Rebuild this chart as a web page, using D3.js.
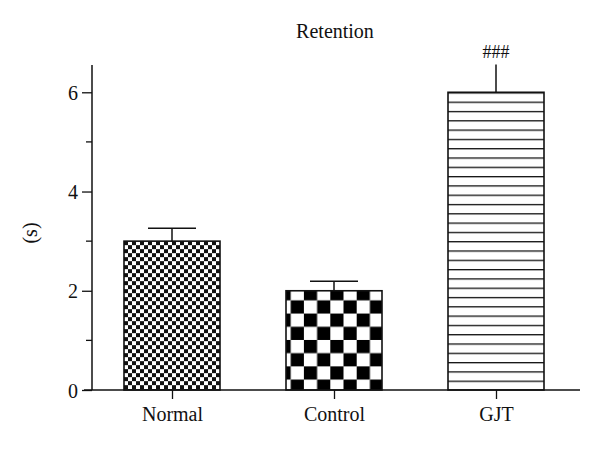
<!DOCTYPE html>
<html>
<head>
<meta charset="utf-8">
<script src="https://cdn.jsdelivr.net/npm/d3@7"></script>
<style>
  body { margin: 0; background: #fff; }
  text { font-family: "Liberation Serif", "Times New Roman", serif; fill: #111; }
</style>
</head>
<body>
<div id="chart"></div>
<script>
// data
let groups = ['Normal', 'Control', 'GJT'];
let means = [3.0, 2.0, 6.0];
let errors = [0.26, 0.19, 0.56];
let marks = ['', '', '###'];
let yTicks = [0, 2, 4, 6];
let yMinor = [1, 3, 5];

let width = 600, height = 450;

let svg = d3.select('#chart').
append('svg').
attr('width', width).
attr('height', height);

let x = d3.scalePoint().
domain(groups).
range([91, 577]).
padding(0.5);

let y = d3.scaleLinear().
domain([0, 6.55]).
range([390, 65]);

let barW = 96;

// patterns
let defs = svg.append('defs');

// fine checker for Normal
let p1 = defs.append('pattern').
attr('id', 'fine').
attr('patternUnits', 'userSpaceOnUse').
attr('x', x('Normal') - barW / 2).
attr('y', y(means[0])).
attr('width', 8).
attr('height', 8);
p1.append('rect').attr('width', 8).attr('height', 8).attr('fill', '#fff');
p1.append('rect').attr('width', 4).attr('height', 4).attr('fill', '#111');
p1.append('rect').attr('x', 4).attr('y', 4).attr('width', 4).attr('height', 4).attr('fill', '#111');

// big checker for Control
let s = 13.2;
let p2 = defs.append('pattern').
attr('id', 'coarse').
attr('patternUnits', 'userSpaceOnUse').
attr('x', x('Control') - barW / 2 - 8.5).
attr('y', y(means[1]) - 3.6).
attr('width', 2 * s).
attr('height', 2 * s);
p2.append('rect').attr('width', 2 * s).attr('height', 2 * s).attr('fill', '#fff');
p2.append('rect').attr('width', s).attr('height', s).attr('fill', '#000');
p2.append('rect').attr('x', s).attr('y', s).attr('width', s).attr('height', s).attr('fill', '#000');

// horizontal lines for GJT
let ls = 9.3;
let p3 = defs.append('pattern').
attr('id', 'hlines').
attr('patternUnits', 'userSpaceOnUse').
attr('x', 0).
attr('y', y(means[2])).
attr('width', 20).
attr('height', ls);
p3.append('rect').attr('width', 20).attr('height', ls).attr('fill', '#fff');
p3.append('rect').attr('width', 20).attr('height', 1.3).attr('fill', '#111');

let fills = ['url(#fine)', 'url(#coarse)', 'url(#hlines)'];

// bars
svg.selectAll('rect.bar').
data(groups).
enter().
append('rect').
attr('class', 'bar').
attr('x', d => x(d) - barW / 2).
attr('y', (d, i) => y(means[i])).
attr('width', barW).
attr('height', (d, i) => y(0) - y(means[i])).
attr('fill', (d, i) => fills[i]).
attr('stroke', '#111').
attr('stroke-width', 1.6);

// error bars
svg.selectAll('line.err').
data(groups).
enter().
append('line').
attr('class', 'err').
attr('x1', d => x(d)).
attr('x2', d => x(d)).
attr('y1', (d, i) => y(means[i])).
attr('y2', (d, i) => y(means[i] + errors[i])).
attr('stroke', '#111').
attr('stroke-width', 1.5);

// caps (none drawn on GJT in the original)
svg.selectAll('line.cap').
data(groups.slice(0, 2)).
enter().
append('line').
attr('class', 'cap').
attr('x1', d => x(d) - 24).
attr('x2', d => x(d) + 24).
attr('y1', (d, i) => y(means[i] + errors[i])).
attr('y2', (d, i) => y(means[i] + errors[i])).
attr('stroke', '#111').
attr('stroke-width', 1.5);

// significance marks
svg.selectAll('text.mark').
data(groups).
enter().
append('text').
attr('class', 'mark').
attr('x', d => x(d)).
attr('y', (d, i) => y(means[i] + errors[i]) - 7).
attr('text-anchor', 'middle').
style('font-size', '18px').
text((d, i) => marks[i]);

// y axis
let yAxis = svg.append('g').
attr('transform', 'translate(92,0)').
call(d3.axisLeft(y).tickValues(yTicks).tickSize(10).tickPadding(4).tickFormat(d3.format('d')));
yAxis.select('.domain').remove();
yAxis.selectAll('line').attr('stroke', '#111').attr('stroke-width', 1.3);
yAxis.selectAll('text').style('font-size', '20px').attr('fill', '#111').attr('dy', '0.35em');

svg.selectAll('line.minor').
data(yMinor).
enter().
append('line').
attr('class', 'minor').
attr('x1', 86).
attr('x2', 92).
attr('y1', d => y(d)).
attr('y2', d => y(d)).
attr('stroke', '#111').
attr('stroke-width', 1.3);

svg.append('line').
attr('x1', 92).attr('x2', 92).
attr('y1', y(6.55)).attr('y2', y(0)).
attr('stroke', '#111').attr('stroke-width', 1.5);

// x axis
let xAxis = svg.append('g').
attr('transform', 'translate(0,' + y(0) + ')').
call(d3.axisBottom(x).tickSize(9).tickPadding(8));
xAxis.select('.domain').remove();
xAxis.selectAll('line').attr('stroke', '#111').attr('stroke-width', 1.3);
xAxis.selectAll('text').style('font-size', '20px').attr('fill', '#111');

svg.append('line').
attr('x1', 84).attr('x2', 580).
attr('y1', y(0)).attr('y2', y(0)).
attr('stroke', '#111').attr('stroke-width', 1.5);

// title
svg.append('text').
attr('x', 335).
attr('y', 38).
attr('text-anchor', 'middle').
style('font-size', '20px').
text('Retention');

// y label
svg.append('text').
attr('transform', 'translate(37,233) rotate(-90)').
attr('text-anchor', 'middle').
style('font-size', '20px').
text('(s)');
</script>
</body>
</html>
